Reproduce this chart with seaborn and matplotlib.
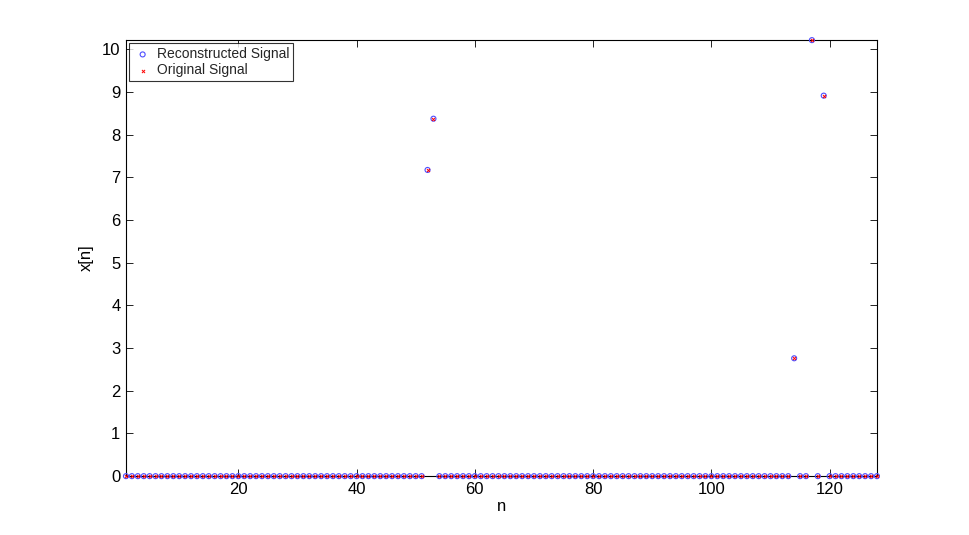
import numpy as np
import pandas as pd
import matplotlib
matplotlib.use("Agg")
import matplotlib.pyplot as plt
import seaborn as sns

# ---- data ----
n_values = list(range(1, 129))
spike_n = [52, 53, 114, 117, 119]
spike_vals = [7.17, 8.37, 2.76, 10.21, 8.91]
x_ticks = [20, 40, 60, 80, 100, 120]
y_ticks = [0, 1, 2, 3, 4, 5, 6, 7, 8, 9, 10]

signal = np.zeros(len(n_values))
for k, v in zip(spike_n, spike_vals):
    signal[k - 1] = v
df = pd.DataFrame({"n": n_values, "x": signal})

sns.set_theme(style="white")
plt.rcParams['font.family'] = ['Liberation Sans', 'DejaVu Sans']

fig = plt.figure(figsize=(9.69, 5.35), dpi=100)
ax = fig.add_axes([0.13, 0.11, 0.775, 0.815])

sns.scatterplot(data=df, x="n", y="x", ax=ax, marker="o", s=13,
                facecolors="none", edgecolor=(0.3, 0.3, 1), linewidth=0.8,
                label="Reconstructed Signal", clip_on=False, zorder=5)
sns.scatterplot(data=df, x="n", y="x", ax=ax, marker="x", s=5,
                color=(1, 0, 0), linewidth=0.7,
                label="Original Signal", clip_on=False, zorder=6)

ax.set_xlim(1, 128)
ax.set_ylim(0, 10.21)
ax.set_xticks(x_ticks)
ax.set_yticks(y_ticks)
ax.tick_params(direction="in", length=5, width=0.6, colors="black",
               labelsize=12, top=True, right=True, bottom=True, left=True,
               labelcolor="black", pad=4)
for s in ax.spines.values():
    s.set_color("black")
    s.set_linewidth(0.8)
    s.set_zorder(1)
ax.set_xlabel("n", fontsize=12, color="black", labelpad=2)
ax.set_ylabel("x[n]", fontsize=12, color="black", labelpad=6)

leg = ax.legend(loc="upper left", fontsize=10, frameon=True, fancybox=False,
                borderaxespad=0.2, handletextpad=0.3, borderpad=0.3,
                labelspacing=0.15, handlelength=1.4, markerscale=1.0)
leg.get_frame().set_edgecolor("black")
leg.get_frame().set_linewidth(0.8)

fig.savefig("out.png", dpi=100)
